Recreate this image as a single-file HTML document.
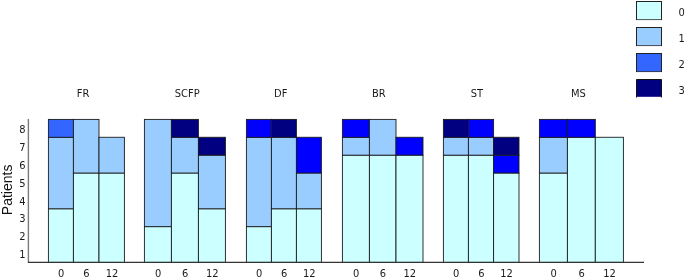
<!DOCTYPE html>
<html lang="en"><head><meta charset="utf-8"><title>Patients chart</title>
<style>
html,body{margin:0;padding:0;background:#fff;}
body{width:685px;height:278px;overflow:hidden;position:relative;}
svg{position:absolute;left:0;top:0;display:block;}
.t{font-family:"DejaVu Sans Condensed","DejaVu Sans","Liberation Sans",sans-serif;font-size:11px;fill:#1a1a1a;}
.p{font-family:"Liberation Sans",Arial,sans-serif;font-size:14px;fill:#111;}
.b{stroke:#1c1c1c;stroke-width:.9;}
</style></head><body>
<svg width="685" height="278" viewBox="0 0 685 278">
<rect class="b" x="48.4" y="208.77" width="25.0" height="53.62" fill="#ccffff"/>
<rect class="b" x="48.4" y="137.27" width="25.0" height="71.50" fill="#99ccff"/>
<rect class="b" x="48.4" y="119.40" width="25.0" height="17.88" fill="#3366ff"/>
<rect class="b" x="73.4" y="173.02" width="25.6" height="89.38" fill="#ccffff"/>
<rect class="b" x="73.4" y="119.40" width="25.6" height="53.62" fill="#99ccff"/>
<rect class="b" x="99.0" y="173.02" width="25.4" height="89.38" fill="#ccffff"/>
<rect class="b" x="99.0" y="137.27" width="25.4" height="35.75" fill="#99ccff"/>
<rect class="b" x="144.4" y="226.65" width="27.0" height="35.75" fill="#ccffff"/>
<rect class="b" x="144.4" y="119.40" width="27.0" height="107.25" fill="#99ccff"/>
<rect class="b" x="171.4" y="173.02" width="27.0" height="89.38" fill="#ccffff"/>
<rect class="b" x="171.4" y="137.27" width="27.0" height="35.75" fill="#99ccff"/>
<rect class="b" x="171.4" y="119.40" width="27.0" height="17.88" fill="#000080"/>
<rect class="b" x="198.4" y="208.77" width="27.0" height="53.62" fill="#ccffff"/>
<rect class="b" x="198.4" y="155.15" width="27.0" height="53.62" fill="#99ccff"/>
<rect class="b" x="198.4" y="137.27" width="27.0" height="17.88" fill="#000080"/>
<rect class="b" x="246.4" y="226.65" width="25.0" height="35.75" fill="#ccffff"/>
<rect class="b" x="246.4" y="137.27" width="25.0" height="89.38" fill="#99ccff"/>
<rect class="b" x="246.4" y="119.40" width="25.0" height="17.88" fill="#0000ff"/>
<rect class="b" x="271.4" y="208.77" width="25.0" height="53.62" fill="#ccffff"/>
<rect class="b" x="271.4" y="137.27" width="25.0" height="71.50" fill="#99ccff"/>
<rect class="b" x="271.4" y="119.40" width="25.0" height="17.88" fill="#000080"/>
<rect class="b" x="296.4" y="208.77" width="25.0" height="53.62" fill="#ccffff"/>
<rect class="b" x="296.4" y="173.02" width="25.0" height="35.75" fill="#99ccff"/>
<rect class="b" x="296.4" y="137.27" width="25.0" height="35.75" fill="#0000ff"/>
<rect class="b" x="342.4" y="155.15" width="27.0" height="107.25" fill="#ccffff"/>
<rect class="b" x="342.4" y="137.27" width="27.0" height="17.88" fill="#99ccff"/>
<rect class="b" x="342.4" y="119.40" width="27.0" height="17.88" fill="#0000ff"/>
<rect class="b" x="369.4" y="155.15" width="26.6" height="107.25" fill="#ccffff"/>
<rect class="b" x="369.4" y="119.40" width="26.6" height="35.75" fill="#99ccff"/>
<rect class="b" x="396.0" y="155.15" width="27.0" height="107.25" fill="#ccffff"/>
<rect class="b" x="396.0" y="137.27" width="27.0" height="17.88" fill="#0000ff"/>
<rect class="b" x="443.4" y="155.15" width="25.0" height="107.25" fill="#ccffff"/>
<rect class="b" x="443.4" y="137.27" width="25.0" height="17.88" fill="#99ccff"/>
<rect class="b" x="443.4" y="119.40" width="25.0" height="17.88" fill="#000080"/>
<rect class="b" x="468.4" y="155.15" width="25.2" height="107.25" fill="#ccffff"/>
<rect class="b" x="468.4" y="137.27" width="25.2" height="17.88" fill="#99ccff"/>
<rect class="b" x="468.4" y="119.40" width="25.2" height="17.88" fill="#0000ff"/>
<rect class="b" x="493.6" y="173.02" width="25.4" height="89.38" fill="#ccffff"/>
<rect class="b" x="493.6" y="155.15" width="25.4" height="17.88" fill="#0000ff"/>
<rect class="b" x="493.6" y="137.27" width="25.4" height="17.88" fill="#000080"/>
<rect class="b" x="539.4" y="173.02" width="28.0" height="89.38" fill="#ccffff"/>
<rect class="b" x="539.4" y="137.27" width="28.0" height="35.75" fill="#99ccff"/>
<rect class="b" x="539.4" y="119.40" width="28.0" height="17.88" fill="#0000ff"/>
<rect class="b" x="567.4" y="137.27" width="27.9" height="125.12" fill="#ccffff"/>
<rect class="b" x="567.4" y="119.40" width="27.9" height="17.88" fill="#0000ff"/>
<rect class="b" x="595.3" y="137.27" width="28.1" height="125.12" fill="#ccffff"/>
<line x1="28.4" y1="119" x2="28.4" y2="263" stroke="#7a7a7a" stroke-width="1.4"/>
<line x1="28" y1="262.4" x2="644" y2="262.4" stroke="#333" stroke-width="1.1"/>
<text class="t" x="25.6" y="258.2" text-anchor="end">1</text>
<text class="t" x="25.6" y="240.3" text-anchor="end">2</text>
<text class="t" x="25.6" y="222.4" text-anchor="end">3</text>
<text class="t" x="25.6" y="204.5" text-anchor="end">4</text>
<text class="t" x="25.6" y="186.7" text-anchor="end">5</text>
<text class="t" x="25.6" y="168.8" text-anchor="end">6</text>
<text class="t" x="25.6" y="150.9" text-anchor="end">7</text>
<text class="t" x="25.6" y="133.0" text-anchor="end">8</text>
<text class="t" x="61.2" y="276.7" text-anchor="middle">0</text>
<text class="t" x="86.5" y="276.7" text-anchor="middle">6</text>
<text class="t" x="112.0" y="276.7" text-anchor="middle">12</text>
<text class="t" x="83.0" y="97.2" text-anchor="middle">FR</text>
<text class="t" x="158.2" y="276.7" text-anchor="middle">0</text>
<text class="t" x="185.2" y="276.7" text-anchor="middle">6</text>
<text class="t" x="212.2" y="276.7" text-anchor="middle">12</text>
<text class="t" x="187.2" y="97.2" text-anchor="middle">SCFP</text>
<text class="t" x="259.2" y="276.7" text-anchor="middle">0</text>
<text class="t" x="284.2" y="276.7" text-anchor="middle">6</text>
<text class="t" x="309.2" y="276.7" text-anchor="middle">12</text>
<text class="t" x="280.7" y="97.2" text-anchor="middle">DF</text>
<text class="t" x="356.2" y="276.7" text-anchor="middle">0</text>
<text class="t" x="383.0" y="276.7" text-anchor="middle">6</text>
<text class="t" x="409.8" y="276.7" text-anchor="middle">12</text>
<text class="t" x="378.8" y="97.2" text-anchor="middle">BR</text>
<text class="t" x="456.2" y="276.7" text-anchor="middle">0</text>
<text class="t" x="481.3" y="276.7" text-anchor="middle">6</text>
<text class="t" x="506.6" y="276.7" text-anchor="middle">12</text>
<text class="t" x="477.0" y="97.2" text-anchor="middle">ST</text>
<text class="t" x="553.7" y="276.7" text-anchor="middle">0</text>
<text class="t" x="581.6" y="276.7" text-anchor="middle">6</text>
<text class="t" x="609.6" y="276.7" text-anchor="middle">12</text>
<text class="t" x="578.3" y="97.2" text-anchor="middle">MS</text>
<text class="p" transform="translate(11.5,189.9) rotate(-90)" text-anchor="middle">Patients</text>
<rect x="636.5" y="1.5" width="25" height="18.3" fill="#ccffff" stroke="#222" stroke-width="1"/>
<line x1="636" y1="20.5" x2="662" y2="20.5" stroke="#f0f0f0" stroke-width="1"/>
<text class="t" x="678.4" y="15.7">0</text>
<rect x="636.5" y="27.5" width="25" height="18.3" fill="#99ccff" stroke="#222" stroke-width="1"/>
<line x1="636" y1="46.5" x2="662" y2="46.5" stroke="#f0f0f0" stroke-width="1"/>
<text class="t" x="678.4" y="41.7">1</text>
<rect x="636.5" y="53.5" width="25" height="18.3" fill="#3366ff" stroke="#222" stroke-width="1"/>
<line x1="636" y1="72.5" x2="662" y2="72.5" stroke="#f0f0f0" stroke-width="1"/>
<text class="t" x="678.4" y="67.7">2</text>
<rect x="636.5" y="79.5" width="25" height="17.3" fill="#000080"/>
<path d="M636.5 97.5 V79.5 H661.5 V97.5" fill="none" stroke="#111" stroke-width="1"/>
<text class="t" x="678.4" y="93.7">3</text>
</svg>
</body></html>
